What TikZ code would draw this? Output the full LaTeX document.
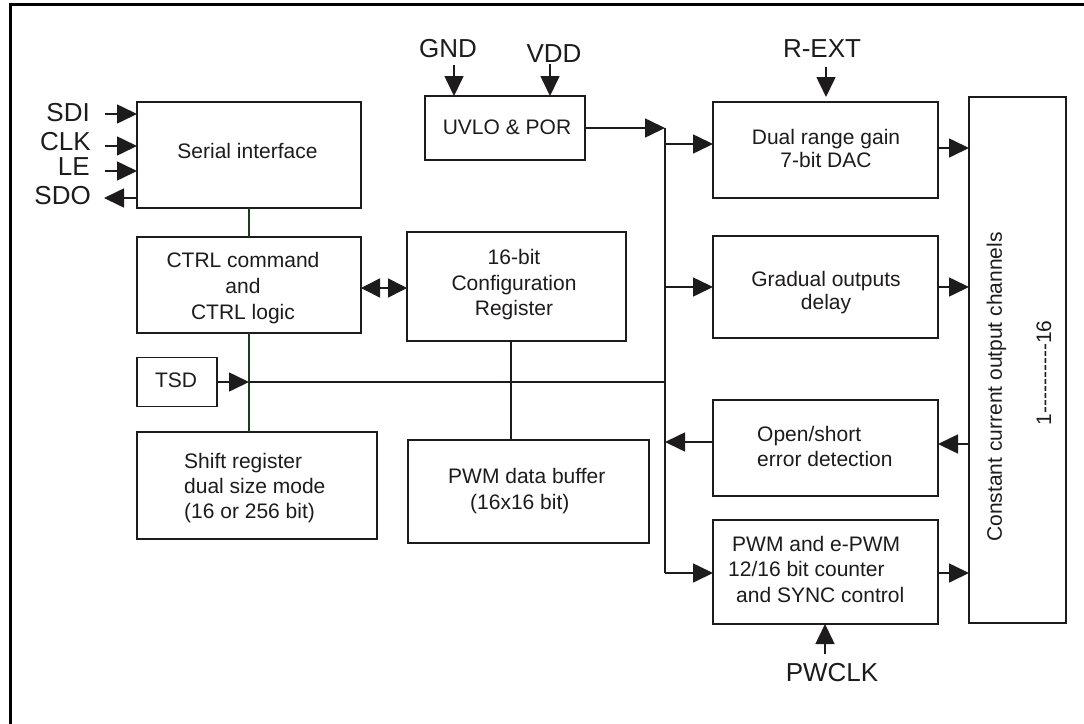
\documentclass[tikz,border=0pt]{standalone}
\usepackage{fontspec}
\setmainfont{Liberation Sans}
\usetikzlibrary{arrows.meta}
\definecolor{ink}{RGB}{30,27,28}
\definecolor{wire}{RGB}{25,60,25}
\newcommand\hy{\mbox{-}}
\begin{document}
\begin{tikzpicture}[x=1pt,y=-1pt,
  blk/.style={draw=ink, line width=1.9pt, inner sep=0pt, outer sep=0pt},
  txt/.style={text=ink, inner sep=0pt, font=\fontsize{21}{25.5}\selectfont, align=center},
  pin/.style={text=ink, inner sep=0pt, font=\fontsize{26}{30}\selectfont},
  conn/.style={draw=ink, line width=1.6pt},
  arr/.style={conn, -{Triangle[length=20pt,width=19pt]}},
  darr/.style={conn, {Triangle[length=19pt,width=19pt]}-{Triangle[length=19pt,width=19pt]}},
  gwire/.style={draw=wire, line width=1.6pt}]
\useasboundingbox (0,0) rectangle (1084,723);
\fill[white] (0,0) rectangle (1084,723);
% outer frame
\draw[line width=3pt, black] (10,730) -- (10,4) -- (1090,4);

% blocks
\node[blk, minimum width=224pt, minimum height=106pt] (serial)  at (249,155) {};
\node[blk, minimum width=224pt, minimum height=96pt]  (ctrl)    at (249,285) {};
\node[blk, minimum width=219pt, minimum height=109pt] (config)  at (516.5,286.5) {};
\node[blk, minimum width=80pt,  minimum height=49pt]  (tsd)     at (177,382) {};
\node[blk, minimum width=240pt, minimum height=107pt] (shift)   at (257,485.5) {};
\node[blk, minimum width=241pt, minimum height=103pt] (pwmbuf)  at (528.5,491.5) {};
\node[blk, minimum width=160pt, minimum height=64pt]  (uvlo)    at (505,128) {};
\node[blk, minimum width=225pt, minimum height=96pt]  (dac)     at (825.5,150) {};
\node[blk, minimum width=225pt, minimum height=102pt] (gradual) at (825.5,287) {};
\node[blk, minimum width=225pt, minimum height=96pt]  (open)    at (825.5,448) {};
\node[blk, minimum width=225pt, minimum height=104pt] (pwm)     at (825.5,572) {};
\node[blk, minimum width=97pt,  minimum height=526pt] (const)   at (1017.5,360) {};

% block texts
\node[txt] (serialT) at (247.5,151.4) {Serial interface};
\node[txt, font=\fontsize{21}{26}\selectfont] (ctrlT) at (243,288.5) {CTRL command\\and\\CTRL logic};
\node[txt] (configT) at (514,285) {16-bit\\Configuration\\Register};
\node[txt] (tsdT) at (176,380.5) {TSD};
\node[txt] (uvloT) at (507,127.5) {UVLO \& POR};
\node[txt, align=left, anchor=west, font=\fontsize{21}{25}\selectfont] (shiftT) at (184,488.5) {Shift register\\dual size mode\\(16 or 256 bit)};
\node[txt, align=left, anchor=west, font=\fontsize{21}{26}\selectfont] (pwmbufT) at (448,491.5) {PWM data buffer\\\hspace*{22pt}(16x16 bit)};
\node[txt, font=\fontsize{21}{23}\selectfont] (dacT) at (826,148.9) {Dual range gain\\7-bit DAC};
\node[txt, font=\fontsize{21}{23}\selectfont] (gradT) at (826,293) {Gradual outputs\\delay};
\node[txt, align=left, anchor=west, font=\fontsize{21}{25}\selectfont] (openT) at (757,446.5) {Open/short\\error detection};
\node[txt, align=left, anchor=west] (pwmT) at (728,569) {\hspace*{4pt}PWM and e-PWM\\12/16 bit counter\\\hspace*{8pt}and SYNC control};
\node[txt, rotate=90] (constT) at (996.5,387) {Constant current output channels};
\node[txt, rotate=90] (chanT) at (1044,373) {1\hy\hy\hy\hy\hy\hy\hy\hy\hy\hy16};

% pin labels
\node[pin, anchor=east] (sdi) at (90,113) {SDI};
\node[pin, anchor=east] (clk) at (91,141.4) {CLK};
\node[pin, anchor=east] (le)  at (90,166.4) {LE};
\node[pin, anchor=east] (sdo) at (91,195.7) {SDO};
\node[pin] (gnd)   at (448,48.7) {GND};
\node[pin] (vdd)   at (554,53.4) {VDD};
\node[pin] (rext)  at (822,48.7) {R-EXT};
\node[pin] (pwclk) at (832,672.7) {PWCLK};

% coordinates
\coordinate (sdiA) at (105,114);
\coordinate (clkA) at (105,146);
\coordinate (leA)  at (105,171);
\coordinate (sdoA) at (104,198);
\coordinate (dblY) at (380,288);
\coordinate (cfgX) at (511,0);
\coordinate (busT) at (665,128);
\coordinate (busB) at (665,573);
\coordinate (dacIn) at (665,144);
\coordinate (openOut) at (713,442);
\coordinate (dacOut) at (938,148);
\coordinate (openIn) at (950,444);
\coordinate (gndA) at (454,65);
\coordinate (vddA) at (550,64);
\coordinate (rextA) at (826,67);
\coordinate (pwclkA) at (825,654);

% serial pins
\draw[arr] (sdiA) -- (sdiA -| serial.west);
\draw[arr] (clkA) -- (clkA -| serial.west);
\draw[arr] (leA) -- (leA -| serial.west);
\draw[arr] (sdoA -| serial.west) -- (sdoA);

% left column wiring
\draw[gwire] (serial.south) -- (ctrl.north);
\draw[gwire] (ctrl.south) -- (ctrl.south |- shift.north);
\draw[darr] (dblY -| ctrl.east) -- (dblY -| config.west);
\draw[arr] (tsd.east) -- (tsd.east -| ctrl.south);
\draw[conn] (tsd.east -| ctrl.south) -- (tsd.east -| busT);
\draw[conn] (config.south -| cfgX) -- (pwmbuf.north -| cfgX);

% power inputs
\draw[arr] (gndA) -- (gndA |- uvlo.north);
\draw[arr] (vddA) -- (vddA |- uvlo.north);
\draw[arr] (uvlo.east) -- (uvlo.east -| busT);

% bus
\draw[conn] (busT) -- (busB);
\draw[arr] (dacIn) -- (dacIn -| dac.west);
\draw[arr] (gradual.west -| busT) -- (gradual.west);
\draw[arr] (openOut -| open.west) -- (openOut -| busT);
\draw[arr] (busB) -- (busB -| pwm.west);

% to/from output channels
\draw[arr] (dacOut -| dac.east) -- (dacOut -| const.west);
\draw[arr] (gradual.east) -- (gradual.east -| const.west);
\draw[arr] (openIn -| const.west) -- (openIn -| open.east);
\draw[arr] (busB -| pwm.east) -- (busB -| const.west);

% external pins
\draw[arr, shorten >=5pt] (rextA) -- (rextA |- dac.north);
\draw[arr] (pwclkA) -- (pwclkA |- pwm.south);
\end{tikzpicture}
\end{document}
